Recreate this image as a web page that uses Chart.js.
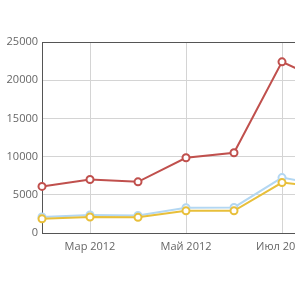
<!DOCTYPE html>
<html>
<head>
<meta charset="utf-8">
<script src="https://cdn.jsdelivr.net/npm/chart.js@4"></script>
<style>
html,body{margin:0;padding:0;background:#fff;overflow:hidden;width:295px;height:285px;}
#wrap{position:absolute;left:0;top:0;width:337px;height:285px;}
</style>
</head>
<body>
<div id="wrap"><canvas id="c" width="337" height="285"></canvas></div>
<script>
const categories = ["Фев 2012","Мар 2012","Апр 2012","Май 2012","Июн 2012","Июл 2012","Авг 2012"];
const redSeries = [6100, 7000, 6700, 9850, 10500, 22400, 19500];
const blueSeries = [2100, 2350, 2300, 3300, 3350, 7250, 6100];
const yellowSeries = [1850, 2100, 2050, 2900, 2900, 6600, 5900];
const yTicks = [0, 5000, 10000, 15000, 20000, 25000];

const frame = {
  id: 'frame',
  afterDatasetsDraw(chart) {
    const {ctx, chartArea} = chart;
    ctx.save();
    ctx.strokeStyle = '#555';
    ctx.lineWidth = 1;
    ctx.beginPath();
    ctx.moveTo(chartArea.left, Math.round(chartArea.top) + 0.5);
    ctx.lineTo(chartArea.right + 20, Math.round(chartArea.top) + 0.5);
    ctx.stroke();
    ctx.restore();
  }
};

function ds(label, data, color) {
  return {
    label, data,
    borderColor: color,
    backgroundColor: '#fff',
    pointBackgroundColor: '#fff',
    pointBorderColor: color,
    pointBorderWidth: 2,
    pointRadius: 3.5,
    borderWidth: 2,
    tension: 0,
    clip: false
  };
}

new Chart(document.getElementById('c'), {
  type: 'line',
  data: {
    labels: categories,
    datasets: [
      ds('red', redSeries, '#c0504d'),
      ds('yellow', yellowSeries, '#e8bf3a'),
      ds('blue', blueSeries, '#b3d7f2')
    ]
  },
  plugins: [frame],
  options: {
    responsive: false,
    animation: false,
    layout: { padding: { left: 0, right: 0, top: 42, bottom: 0 } },
    plugins: { legend: { display: false }, tooltip: { enabled: false } },
    scales: {
      x: {
        offset: false,
        grid: {
          drawTicks: false,
          color: (c) => (c.index % 2 === 1 ? '#d4d4d4' : 'rgba(0,0,0,0)')
        },
        border: { color: '#555', width: 1 },
        ticks: {
          autoSkip: false,
          maxRotation: 0,
          padding: 7,
          color: '#666',
          font: { family: 'Open Sans', size: 11 },
          callback: function (v, i) { return i % 2 === 1 ? categories[i] : ''; }
        },
        afterFit: (s) => { s.height = 52; }
      },
      y: {
        min: 0, max: 25000,
        afterBuildTicks: (s) => { s.ticks = yTicks.map(v => ({ value: v })); },
        grid: { drawTicks: false, color: '#d4d4d4' },
        border: { color: '#555', width: 1 },
        ticks: {
          padding: 4,
          color: '#666',
          font: { family: 'Open Sans', size: 11 },
          callback: (v) => String(v)
        },
        afterFit: (s) => { s.width = 42; }
      }
    }
  }
});
</script>
</body>
</html>
